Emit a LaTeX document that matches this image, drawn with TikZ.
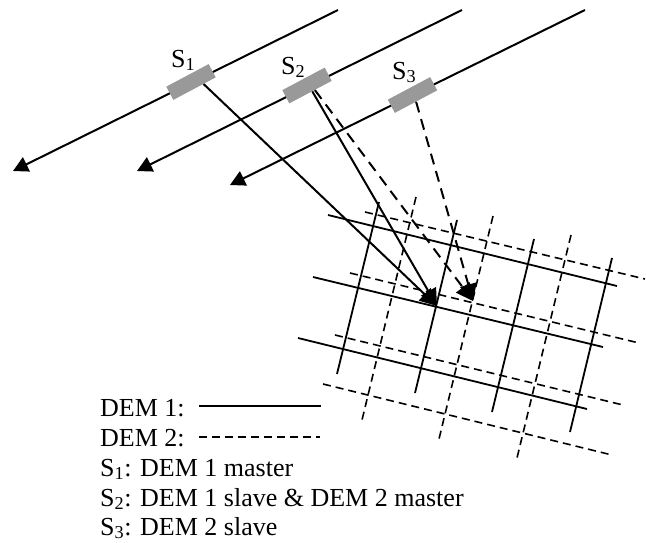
\documentclass[tikz,border=0pt]{standalone}
\usepackage{fontspec}
\setmainfont{Liberation Serif}
\usetikzlibrary{arrows.meta, calc}
\definecolor{sensorgrey}{HTML}{999999}

\begin{document}
\begin{tikzpicture}[
  x=1pt, y=-1pt,
  sensor/.style={fill=sensorgrey, rectangle, inner sep=0pt,
                 minimum width=48pt, minimum height=15pt, rotate=28},
  lbl/.style={font=\fontsize{26}{30}\selectfont, anchor=base west, inner sep=0pt},
  track/.style={line width=2pt, -{Triangle[length=15pt,width=15.6pt]}},
  beam/.style={line width=2pt, -{Triangle[length=17pt,width=17pt]}},
  dembeam/.style={beam, dash pattern=on 11pt off 7pt},
  demone/.style={line width=1.8pt},
  demtwo/.style={line width=1.6pt, dash pattern=on 8pt off 5pt},
]
\useasboundingbox (0,0) rectangle (646,542);

%% DEM 2 grid
\foreach \xa/\ya/\xb/\yb in {365/212/645/279, 350/273/639/343, 335/335/623/405, 323/384/612/455,
                             416/197/362/420, 493/216/439/439, 571/235/517/458} {
  \draw[demtwo] (\xa,\ya) -- (\xb,\yb);
}
%% DEM 1 grid
\foreach \xa/\ya/\xb/\yb in {328/215/617/286, 313/277/603/347, 298/338/587/409,
                             379/202/337/374, 457/220/415/393, 534/239/492/412, 612/258/570/432} {
  \draw[demone] (\xa,\ya) -- (\xb,\yb);
}

%% Orbit tracks
\coordinate (trackA) at (338,10);
\coordinate (trackB) at (462,10);
\coordinate (trackC) at (585,10);
\coordinate (tipA) at (13,171);
\coordinate (tipB) at (137,171);
\coordinate (tipC) at (230,185);
\draw[track] (trackA) -- (tipA);
\draw[track] (trackB) -- (tipB);
\draw[track] (trackC) -- (tipC);

%% Sensors
\node[sensor] (S1) at (191,82) {};
\node[sensor] (S2) at (307,85.5) {};
\node[sensor] (S3) at (412.5,95) {};
\node[lbl] (labelS1) at (171,67) {S\textsubscript{1}};
\node[lbl] (labelS2) at (281,74) {S\textsubscript{2}};
\node[lbl] (labelS3) at (392,79) {S\textsubscript{3}};

%% Beams to the ground cell
\coordinate (cellA) at (437,306);
\coordinate (cellB) at (473,301);
\draw[dembeam] ($(S2.south)!0.2!(S2.south east)$) -- (cellB);
\draw[dembeam] (S3.south) -- (cellB);
\draw[beam] ($(S1.south)!0.42!(S1.south east)$) -- (cellA);
\draw[beam] ($(S2.south)!0.08!(S2.south east)$) -- (cellA);

%% Legend
\coordinate (demoneA) at (199,406);
\coordinate (demoneB) at (321,406);
\coordinate (demtwoA) at (199,437);
\coordinate (demtwoB) at (320,437);
\draw[demone] (demoneA) -- (demoneB);
\draw[demtwo] (demtwoA) -- (demtwoB);
\node[lbl] (legendA) at (100,416) {DEM 1:};
\node[lbl] (legendB) at (100,446) {DEM 2:};
\node[lbl] (legendC) at (100,476) {S\textsubscript{1}: DEM 1 master};
\node[lbl] (legendD) at (100,506) {S\textsubscript{2}: DEM 1 slave \& DEM 2 master};
\node[lbl] (legendE) at (100,535) {S\textsubscript{3}: DEM 2 slave};
\end{tikzpicture}
\end{document}
